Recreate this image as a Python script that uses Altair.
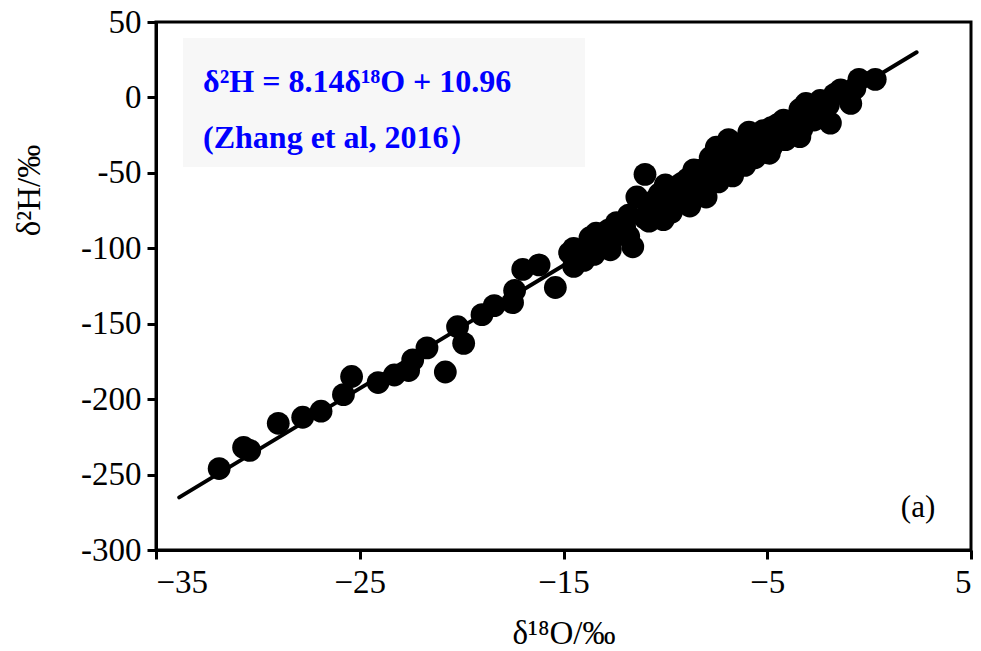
import altair as alt
import pandas as pd

# Sample data
o18 = [-31.9, -30.7, -30.4, -29.0, -27.8, -26.9, -25.8, -25.4, -24.1, -23.3,
       -22.6, -22.4, -21.7, -20.8, -19.9, -20.2, -19.0, -18.4, -17.5, -17.4,
       -17.0, -16.2, -15.4, -14.7, -14.0, -13.7, -13.4, -12.7, -12.4, -11.6,
       -12.0, -11.4, -11.0, -10.8, -10.1, -10.0, -9.5, -8.8, -8.6, -8.3,
       -8.0, -7.5, -7.3, -6.7, -6.9, -6.3, -5.9, -5.9, -5.4, -4.9,
       -4.2, -4.4, -3.9, -3.4, -3.4, -3.1, -2.7, -1.9, -1.4, -0.9,
       -0.5, 0.3, -13.0, -12.5, -12.0, -11.0, -10.5, -9.8, -9.0, -8.5,
       -8.0, -7.5, -7.0, -6.5, -6.0, -5.5, -5.0, -4.6, -4.0, -3.5,
       -3.0, -2.5, -2.0, -1.0, -9.2, -7.8, -6.2, -5.2, -4.5,
       -14.5, -14.5, -13.5, -13.5, -12.8, -11.8, -11.8, -10.8, -10.8, -10.3,
       -9.7, -9.7, -8.9, -8.9, -8.2, -8.2, -7.4, -7.4, -6.8, -6.8,
       -6.1, -6.1, -5.6, -5.6, -4.8, -4.8, -4.1, -4.1, -3.3, -3.3,
       -2.4, -2.4, -1.7, -0.7]
h2 = [-246, -232, -234, -216, -212, -208, -197, -185, -189, -184,
      -181, -174, -166, -182, -163, -152, -144, -138, -136, -128,
      -114, -111, -126, -103, -108, -93, -90, -101, -83, -99,
      -91, -66, -51, -75, -81, -58, -71, -72, -48, -61,
      -66, -33, -45, -52, -28, -42, -23, -35, -28, -37,
      -15, -28, -22, -26, -8, -4, -15, -17, 5, -4,
      12, 12, -95, -92, -86, -80, -68, -66, -62, -66,
      -56, -50, -48, -46, -40, -38, -30, -25, -22, -18,
      -14, -8, -5, 0, -57, -40, -30, -22, -18,
      -100, -112, -92, -104, -88, -78, -92, -70, -82, -64,
      -60, -76, -54, -68, -48, -62, -42, -56, -36, -50,
      -32, -45, -27, -40, -20, -33, -16, -28, -10, -21,
      -2, -13, 2, 6]

# Regression line end points (δ2H = 8.14 δ18O + 10.96)
line_x = [-33.86, 2.33]
line_y = [-265.1, 29.9]

x_ticks = [-35, -25, -15, -5, 5]
y_ticks = [-300, -250, -200, -150, -100, -50, 0, 50]

eq_lines = ["δ²H = 8.14δ¹⁸O + 10.96", "(Zhang et al, 2016）"]
eq_x = [-32.69, -32.69]
eq_y = [3.6, -33.5]

box = pd.DataFrame({"o18": [-33.67], "o18b": [-13.94], "h2": [39.4], "h2b": [-46.1]})
pts = pd.DataFrame({"o18": o18, "h2": h2})
ln = pd.DataFrame({"o18": line_x, "h2": line_y})
eq = pd.DataFrame({"t": eq_lines, "o18": eq_x, "h2": eq_y})
lab = pd.DataFrame({"t": ["(a)"], "o18": [2.4], "h2": [-272]})

FONT = "Liberation Serif"

xscale = alt.Scale(domain=[-35, 5], nice=False, zero=False)
yscale = alt.Scale(domain=[-300, 50], nice=False, zero=False)

xenc = alt.X("o18:Q", scale=xscale,
             axis=alt.Axis(values=x_ticks, title="δ¹⁸O/‰", titleY=83,
                           titleBaseline="middle", labelPadding=7))
yenc = alt.Y("h2:Q", scale=yscale,
             axis=alt.Axis(values=y_ticks, title="δ²H/‰", titleX=-127,
                           titleY=168, titleAngle=-90, titleAlign="center",
                           titleBaseline="middle", labelPadding=6,
                           labelExpr="'' + datum.value"))

rect = alt.Chart(box).mark_rect(color="#f7f7f7").encode(
    x=xenc, x2="o18b:Q", y=yenc, y2="h2b:Q")

eqtext = alt.Chart(eq).mark_text(
    font=FONT, fontSize=32, fontWeight="bold", color="#0000ff",
    align="left", baseline="alphabetic").encode(x=xenc, y=yenc, text="t:N")

line = alt.Chart(ln).mark_line(color="black", strokeWidth=4,
                               strokeCap="round").encode(x=xenc, y=yenc)

points = alt.Chart(pts).mark_circle(color="black", opacity=1, size=520).encode(
    x=xenc, y=yenc)

atext = alt.Chart(lab).mark_text(font=FONT, fontSize=31, color="black",
                                 align="center", baseline="middle").encode(
    x=xenc, y=yenc, text="t:N")

chart = alt.layer(rect, eqtext, line, points, atext).properties(
    width=815, height=528,
    autosize=alt.AutoSizeParams(type="none"),
    padding={"left": 156, "top": 22, "right": 10, "bottom": 101},
    background="white",
).configure_view(stroke="black", strokeWidth=3).configure_axis(
    grid=False, domainColor="black", domainWidth=3, tickColor="black",
    tickWidth=3, tickSize=9, labelFont=FONT, labelFontSize=33,
    labelColor="black", titleFont=FONT, titleFontSize=33,
    titleFontWeight="normal", titleColor="black",
)

chart.save("out.html", embed_options={"renderer": "svg", "actions": False})
